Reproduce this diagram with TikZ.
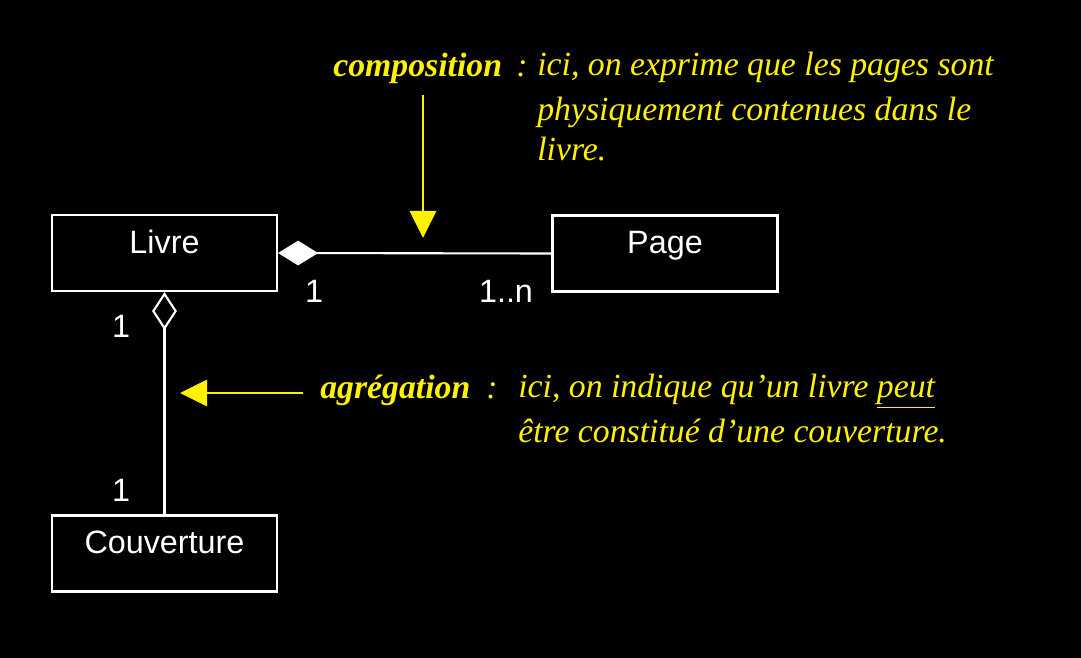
\documentclass[tikz,border=0pt]{standalone}
\usepackage{fontspec}
\setmainfont{Liberation Serif}
\setsansfont{Liberation Sans}
\usepackage{xcolor}
\usepackage{tikz}
\usetikzlibrary{positioning,calc,arrows.meta}

\tikzset{
  classbox/.style={draw=white, line width=1.5pt, text=white, font=\fontsize{23}{28}\selectfont\sffamily,
    minimum width=5.625cm, minimum height=1.9cm, text height=0.4cm, text depth=0.4cm, inner sep=0pt},
  mult/.style={text=white, font=\fontsize{23}{28}\selectfont\sffamily, inner sep=0pt},
  note/.style={text=yellow, font=\fontsize{24}{29.9}\selectfont\itshape, align=left, inner sep=0pt, anchor=base west},
  pointer/.style={draw=yellow, line width=1.5pt, -{Triangle[length=0.68cm, width=0.66cm, fill=yellow]}}
}

\begin{document}
\begin{tikzpicture}[x=0.025cm, y=-0.025cm]
  % Background
  \fill[black] (0, 0) rectangle (1081, 658);

  % Classes
  \node[classbox] (livre) at (164.5, 253) {Livre};
  \node[classbox] (page) at (665, 253.5) {Page};
  \node[classbox] (couv) at (164.5, 553.5) {Couverture};

  % Composition Livre -- Page
  \draw[draw=white, line width=1.5pt, {Diamond[length=1cm, width=0.62cm, fill=white]}-] (livre.east) -- (page.west);
  \node[mult] (m1) at (314, 291) {1};
  \node[mult] (m2) at (506, 291) {1..n};

  % Aggregation Livre -- Couverture
  \draw[draw=white, line width=1.5pt, {Diamond[open, length=0.95cm, width=0.62cm]}-] (livre.south) -- (couv.north);
  \node[mult] (m3) at (121, 326) {1};
  \node[mult] (m4) at (121, 490) {1};

  % Note on composition (base = last line)
  \node[note, font=\fontsize{24}{30}\selectfont\bfseries\itshape] (comp) at (333, 76) {composition};
  \node[note] (compcolon) at (516, 76) {:};
  \node[note] (comptext) at (537, 160) {ici, on exprime que les pages sont\\[2pt]physiquement contenues dans le\\[-2pt]livre.};
  \coordinate (comptail) at (423, 95);
  \coordinate (comphead) at (423, 238);
  \draw[pointer] (comptail) -- (comphead);

  % Note on aggregation
  \node[note, font=\fontsize{24}{30}\selectfont\bfseries\itshape] (agr) at (320, 398) {agrégation};
  \node[note] (agrcolon) at (486, 398) {:};
  \node[note] (agrtext) at (518, 442) {ici, on indique qu'un livre \underline{peut}\\[1.4pt]être constitué d'une couverture.};
  \coordinate (agrtail) at (303, 393);
  \coordinate (agrhead) at (180, 393);
  \draw[pointer] (agrtail) -- (agrhead);
\end{tikzpicture}
\end{document}
